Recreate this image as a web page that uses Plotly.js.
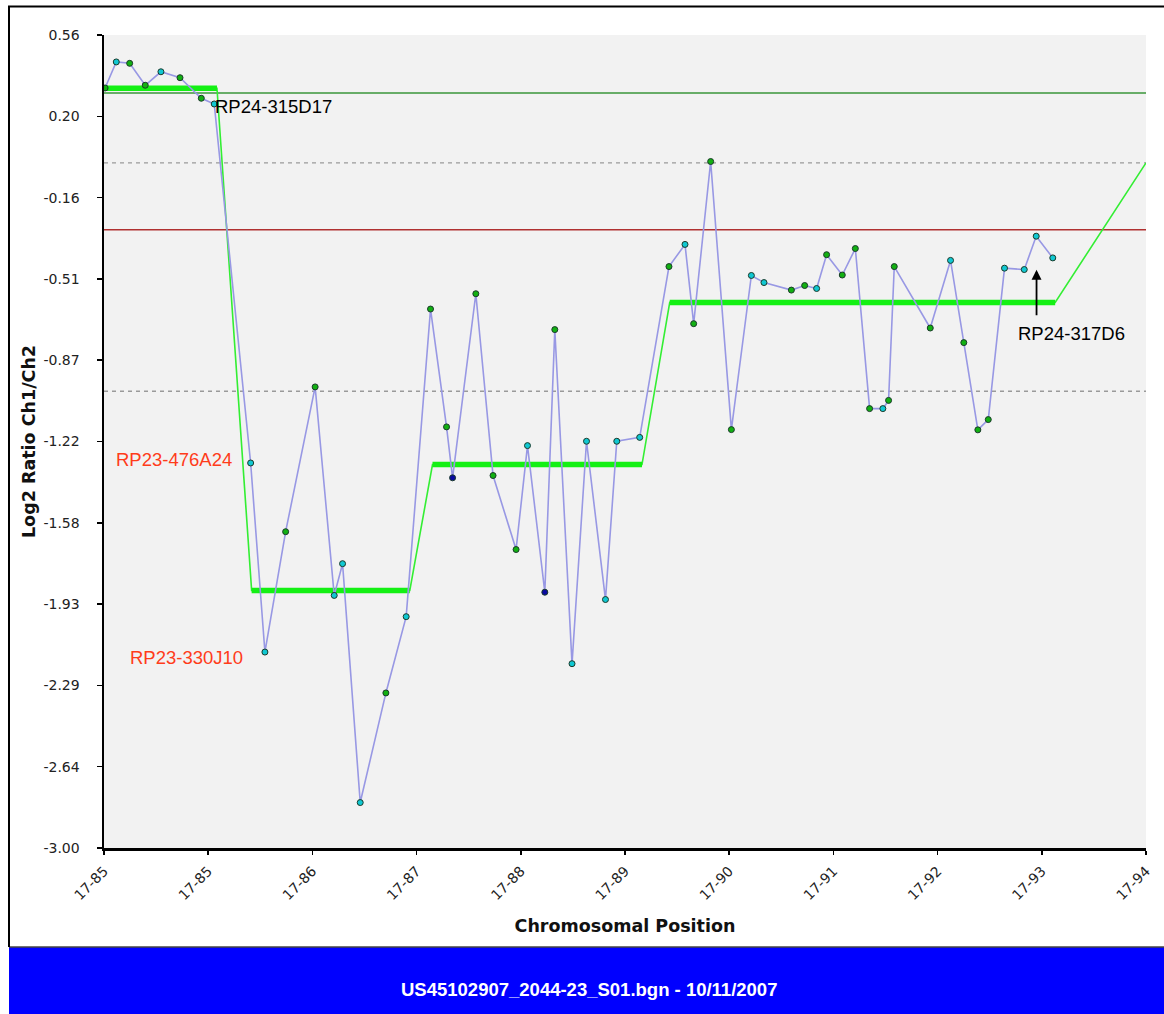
<!DOCTYPE html>
<html>
<head>
<meta charset="utf-8">
<script src="https://cdn.plot.ly/plotly-3.0.1.min.js"></script>
<style>
  html, body { margin: 0; padding: 0; background: #ffffff; }
  #chart { width: 1164px; height: 1014px; }
</style>
</head>
<body>
<div id="chart"></div>
<script>
// ---------------- data ----------------
// probe positions on chromosome 17 (Mb) and log2 ratios
const posMb = [84.51, 84.612, 84.734, 84.876, 85.019, 85.193, 85.387, 85.505,
  85.837, 85.967, 86.156, 86.425, 86.599, 86.675, 86.836, 87.070, 87.255,
  87.477, 87.623, 87.678, 87.890, 88.047, 88.257, 88.361, 88.519, 88.610,
  88.767, 88.899, 89.072, 89.175, 89.384, 89.651, 89.797, 89.876, 90.031,
  90.220, 90.402, 90.517, 90.767, 90.888, 90.997, 91.088, 91.231, 91.350,
  91.480, 91.601, 91.653, 91.705, 92.033, 92.218, 92.339, 92.467, 92.562,
  92.710, 92.890, 92.999, 93.150];
const log2Ratio = [0.328, 0.442, 0.436, 0.340, 0.399, 0.373, 0.283, 0.258,
  -1.314, -2.142, -1.615, -0.981, -1.894, -1.755, -2.801, -2.321, -1.987,
  -0.640, -1.156, -1.379, -0.573, -1.369, -1.693, -1.238, -1.880, -0.730,
  -2.193, -1.219, -1.912, -1.219, -1.202, -0.454, -0.357, -0.704, 0.006,
  -1.168, -0.493, -0.524, -0.557, -0.537, -0.550, -0.402, -0.491, -0.375,
  -1.076, -1.076, -1.040, -0.454, -0.723, -0.427, -0.787, -1.169, -1.124,
  -0.461, -0.467, -0.321, -0.416];
// marker class of each probe: G = green, C = cyan, B = dark blue
const probeClass = ['G','C','G','G','C','G','G','C',
  'C','C','G','G','C','C','C','G','C',
  'G','G','B','G','G','G','C','B','G',
  'C','C','C','C','C','G','C','G','G',
  'G','C','C','G','G','C','G','G','G',
  'G','C','G','G','G','C','G','G','G',
  'C','C','C','C'];

// segmentation (flat segments) and the tail of the segment line
const segStart = [84.5, 85.846, 87.495, 89.658];
const segEnd   = [85.530, 87.288, 89.405, 93.172];
const segLevel = [0.327, -1.872, -1.321, -0.611];
const segTailX = 94.0;
const segTailY = 0.0;

// reference levels
const gainThreshold = 0.306;
const lossThreshold = -0.293;
const dashedLevels = [0.0, -1.0];

// axis ticks
const xTickVals = [84.5, 85.45, 86.4, 87.35, 88.3, 89.25, 90.2, 91.15, 92.1, 93.05, 94.0];
const xTickText = ['17-85','17-85','17-86','17-87','17-88','17-89','17-90','17-91','17-92','17-93','17-94'];
const yTickVals = [0.56, 0.204, -0.152, -0.508, -0.864, -1.22, -1.576, -1.932, -2.288, -2.644, -3.0];
const yTickText = ['0.56','0.20','-0.16','-0.51','-0.87','-1.22','-1.58','-1.93','-2.29','-2.64','-3.00'];

// clone labels
const cloneLabels = ['RP24-315D17', 'RP23-476A24', 'RP23-330J10', 'RP24-317D6'];
const cloneLabelX = [85.49, 84.591, 84.721, 93.318];
const cloneLabelY = [0.249, -1.299, -2.167, -0.748];
const cloneArrowX = 93.002;
const cloneArrowY = -0.468;

const footerText = 'US45102907_2044-23_S01.bgn - 10/11/2007';

// ---------------- drawing ----------------
const W = 1164, H = 1014;
const M = {l: 104, r: 18, t: 35, b: 166};
const plotW = W - M.l - M.r, plotH = H - M.t - M.b;
const paperX = px => (px - M.l) / plotW;
const paperY = py => (H - M.b - py) / plotH;

const classColor = {G: '#12b012', C: '#10c8d2', B: '#0a0aa0'};
const xMin = xTickVals[0], xMax = xTickVals[xTickVals.length - 1];

const traces = [];

// dashed reference lines
dashedLevels.forEach(v => traces.push({
  x: [xMin, xMax], y: [v, v], mode: 'lines', type: 'scatter',
  line: {color: '#9a9a9a', width: 1.3, dash: '4px,4px'}, hoverinfo: 'skip', showlegend: false
}));
// gain / loss thresholds
traces.push({x: [xMin, xMax], y: [gainThreshold, gainThreshold], mode: 'lines', type: 'scatter',
  line: {color: '#3a963a', width: 1.6}, hoverinfo: 'skip', showlegend: false});
traces.push({x: [xMin, xMax], y: [lossThreshold, lossThreshold], mode: 'lines', type: 'scatter',
  line: {color: '#b03030', width: 1.6}, hoverinfo: 'skip', showlegend: false});

// thin segmentation connector
const connX = [], connY = [];
segStart.forEach((s, i) => { connX.push(s, segEnd[i]); connY.push(segLevel[i], segLevel[i]); });
connX.push(segTailX); connY.push(segTailY);
traces.push({x: connX, y: connY, mode: 'lines', type: 'scatter',
  line: {color: '#33ee33', width: 1.6}, hoverinfo: 'skip', showlegend: false});

// thick flat segments
const thickX = [], thickY = [];
segStart.forEach((s, i) => { thickX.push(s, segEnd[i], null); thickY.push(segLevel[i], segLevel[i], null); });
traces.push({x: thickX, y: thickY, mode: 'lines', type: 'scatter',
  line: {color: '#14f014', width: 5.5}, hoverinfo: 'skip', showlegend: false});

// probe profile
traces.push({x: posMb, y: log2Ratio, mode: 'lines+markers', type: 'scatter',
  line: {color: '#9898e4', width: 1.6},
  marker: {size: 6, color: probeClass.map(c => classColor[c]), line: {color: '#1a3a2a', width: 1}},
  showlegend: false});

const labelFont = {family: 'Liberation Sans, Arial, sans-serif', size: 18.5};
const annotations = cloneLabels.map((t, i) => ({
  x: cloneLabelX[i], y: cloneLabelY[i], xref: 'x', yref: 'y', text: t, showarrow: false,
  xanchor: i === 3 ? 'center' : 'left', yanchor: 'middle',
  font: Object.assign({}, labelFont, {color: (i === 1 || i === 2) ? '#ff3c1a' : '#000000'})
}));
annotations.push({x: cloneArrowX, y: cloneArrowY, xref: 'x', yref: 'y', text: '', showarrow: true,
  ax: 0, ay: 47, arrowhead: 2, arrowsize: 1.1, arrowwidth: 1.8, arrowcolor: '#000000', standoff: 0});
annotations.push({x: paperX(589), y: paperY(989), xref: 'paper', yref: 'paper', text: '<b>' + footerText + '</b>',
  showarrow: false, xanchor: 'center', yanchor: 'middle',
  font: {family: 'Liberation Sans, Arial, sans-serif', size: 18.5, color: '#ffffff'}});

const shapes = [
  // blue footer band
  {type: 'rect', xref: 'paper', yref: 'paper', x0: paperX(9), x1: paperX(1164), y0: paperY(1014), y1: paperY(947),
    fillcolor: '#0000ff', line: {width: 0}, layer: 'below'},
  {type: 'line', xref: 'paper', yref: 'paper', x0: paperX(9), x1: paperX(1164), y0: paperY(947), y1: paperY(947),
    line: {color: '#444444', width: 1.5}},
  // outer frame
  {type: 'line', xref: 'paper', yref: 'paper', x0: paperX(8), x1: paperX(1164), y0: paperY(6.5), y1: paperY(6.5),
    line: {color: '#000000', width: 2}},
  {type: 'line', xref: 'paper', yref: 'paper', x0: paperX(9), x1: paperX(9), y0: paperY(6), y1: paperY(947),
    line: {color: '#000000', width: 2}}
];

const tickFont = {family: 'DejaVu Sans, sans-serif', size: 14, color: '#222222'};
const titleFont = {family: 'DejaVu Sans, sans-serif', size: 17.5, color: '#111111', weight: 'bold'};

const layout = {
  width: W, height: H,
  margin: M,
  paper_bgcolor: '#ffffff',
  plot_bgcolor: '#f2f2f2',
  showlegend: false,
  hovermode: false,
  xaxis: {
    range: [xMin, xMax], tickmode: 'array', tickvals: xTickVals, ticktext: xTickText,
    tickangle: -45, tickfont: tickFont, ticks: 'outside', ticklen: 4, tickwidth: 1.5, tickcolor: '#000',
    ticklabelstandoff: 3,
    showline: true, linecolor: '#000000', linewidth: 2.5, showgrid: false, zeroline: false,
    title: {text: 'Chromosomal Position', font: titleFont, standoff: 18}
  },
  yaxis: {
    range: [-3.0, 0.56], tickmode: 'array', tickvals: yTickVals, ticktext: yTickText,
    tickfont: tickFont, ticks: 'outside', ticklen: 5, tickwidth: 1.5, tickcolor: '#000',
    ticklabelstandoff: 14,
    showline: true, linecolor: '#000000', linewidth: 2.5, showgrid: false, zeroline: false,
    title: {text: 'Log2 Ratio Ch1/Ch2', font: titleFont, standoff: 4}
  },
  annotations: annotations,
  shapes: shapes
};

Plotly.newPlot('chart', traces, layout, {displayModeBar: false, staticPlot: true});
</script>
</body>
</html>
